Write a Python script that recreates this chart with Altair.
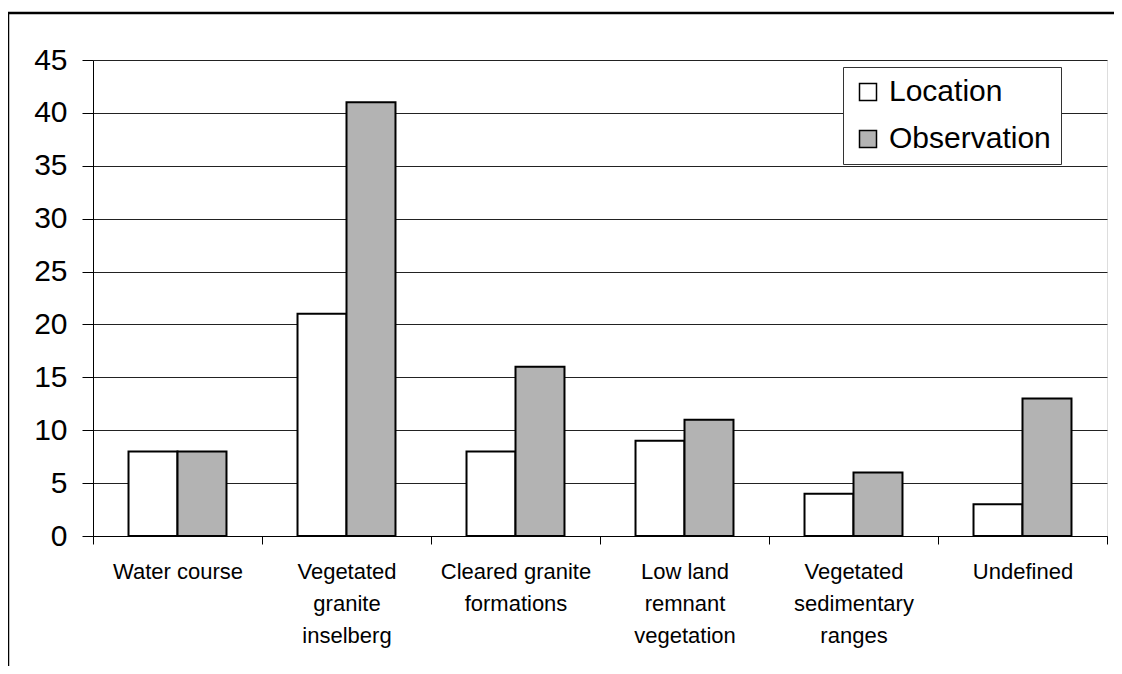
import altair as alt
import pandas as pd

categories = ["Water course", "Vegetated granite inselberg", "Cleared granite formations",
              "Low land remnant vegetation", "Vegetated sedimentary ranges", "Undefined"]
label_lines = [["Water course"], ["Vegetated", "granite", "inselberg"], ["Cleared granite", "formations"],
               ["Low land", "remnant", "vegetation"], ["Vegetated", "sedimentary", "ranges"], ["Undefined"]]
series = ["Location", "Observation"]
location = [8, 21, 8, 9, 4, 3]
observation = [8, 41, 16, 11, 6, 13]
y_ticks = [0, 5, 10, 15, 20, 25, 30, 35, 40, 45]

rows = []
for c, l, o in zip(categories, location, observation):
    rows.append({"category": c, "series": "Location", "value": l})
    rows.append({"category": c, "series": "Observation", "value": o})
df = pd.DataFrame(rows)

lookup = "{" + ",".join("'%s': [%s]" % (c, ",".join("'%s'" % s for s in ls))
                        for c, ls in zip(categories, label_lines)) + "}"
label_expr = lookup + "[datum.label]"

FONT = "Liberation Sans, Arial"

frame = alt.Chart(pd.DataFrame({"a": [0]})).mark_rect(
    fill=None, stroke="black", strokeWidth=2.5
).encode(
    x=alt.value(-85), x2=alt.value(1400), y=alt.value(-47), y2=alt.value(900)
)

bars = alt.Chart(df).mark_bar(stroke="black", strokeWidth=2).encode(
    x=alt.X("category:N", sort=categories, title=None,
            scale=alt.Scale(paddingInner=0, paddingOuter=0),
            axis=alt.Axis(labelAngle=0, labelExpr=label_expr, tickBand="extent",
                          tickSize=8, tickColor="black", domainColor="black",
                          labelFontSize=22, labelFont=FONT, labelColor="black",
                          labelPadding=17, labelLineHeight=32, labelLimit=300,
                          labelBaseline="top", grid=False)),
    xOffset=alt.XOffset("series:N", sort=series,
                        scale=alt.Scale(paddingInner=0, paddingOuter=0.725)),
    y=alt.Y("value:Q", title=None,
            scale=alt.Scale(domain=[0, 45], nice=False),
            axis=alt.Axis(values=y_ticks, tickSize=11, tickColor="black",
                          domainColor="black", gridColor="#222", gridWidth=1,
                          labelFontSize=30, labelFont=FONT, labelColor="black",
                          labelPadding=15)),
    fill=alt.Fill("series:N", sort=series,
                  scale=alt.Scale(domain=series, range=["white", "#b3b3b3"]),
                  legend=alt.Legend(title=None, orient="none", legendX=750, legendY=7,
                                    fillColor="white", strokeColor="#333", padding=10,
                                    symbolType="square", symbolSize=289,
                                    symbolStrokeColor="black", symbolStrokeWidth=1.5,
                                    labelFontSize=30, labelFont=FONT, labelColor="black",
                                    labelLimit=400, labelOffset=6, rowPadding=17)),
)

chart = alt.layer(frame, bars).properties(
    width=1014, height=476,
    autosize=alt.AutoSizeParams(type="none"),
    padding={"left": 85, "top": 52, "right": 7, "bottom": 130},
).configure_view(stroke=None).configure(background="white")

chart.save("out.html", embed_options={"renderer": "svg", "actions": False})
